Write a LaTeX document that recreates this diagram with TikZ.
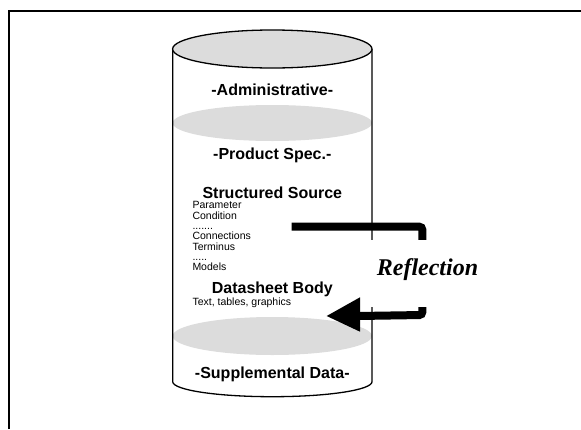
\documentclass[tikz,border=0pt]{standalone}
\usepackage{fontspec}
\newfontfamily\arialf{Liberation Sans}
\newfontfamily\timesf{Liberation Serif}
\definecolor{layergray}{RGB}{220,220,220}
\begin{document}
\begin{tikzpicture}[x=1pt,y=-1pt,
  head/.style={font=\arialf\bfseries\fontsize{16}{19}\selectfont, anchor=base, inner sep=0pt},
  small/.style={font=\arialf\fontsize{10.5}{12}\selectfont, anchor=base west, inner sep=0pt},
  outline/.style={line width=1.3pt, black},
  bigarrow/.style={line width=8pt, black, rounded corners=3pt}]
\useasboundingbox (0,0) rectangle (581,429);
% frame
\draw[line width=2pt] (9,429) -- (9,10.5) -- (581,10.5);
% layer ellipses
\fill[layergray] (272.3,123) ellipse [x radius=99.7pt, y radius=18pt];
\fill[layergray] (272.3,336) ellipse [x radius=99.7pt, y radius=19pt];
% cylinder body
\draw[outline] (172.7,49) -- (172.7,381.7)
  .. controls (172.7,390) and (217.2,396.7) .. (272.3,396.7)
  .. controls (327.4,396.7) and (372,390) .. (372,381.7) -- (372,49);
\draw[outline, fill=layergray] (272.3,49) ellipse [x radius=99.7pt, y radius=19pt];
% texts
\node[head] (adm) at (272.3,95.5) {-Administrative-};
\node[head] (prod) at (272.3,159.8) {-Product Spec.-};
\node[head] (ss) at (272.3,198) {Structured Source};
\node[small] (l1) at (192.3,208.3) {Parameter};
\node[small] (l2) at (192.3,219) {Condition};
\node[small] (l3) at (192.3,229) {.......};
\node[small] (l4) at (192.3,239) {Connections};
\node[small] (l5) at (192.3,250) {Terminus};
\node[small] (l6) at (192.3,260) {.....};
\node[small] (l7) at (192.3,270) {Models};
\node[head] (db) at (272.3,293.3) {Datasheet Body};
\node[small] (tt) at (192.3,305.8) {Text, tables, graphics};
\node[head] (sup) at (272.3,378) {-Supplemental Data-};
% reflection arrow
\coordinate (from) at (291.7,226.7);
\coordinate (bend) at (422.3,226.7);
\coordinate (bend2) at (422.3,315);
\coordinate (neck) at (358,316);
\coordinate (to) at (326.7,316);
\draw[bigarrow] (from) -- (bend) -- (bend2) -- (neck);
\fill (to) -- (360,297.3) -- (360,331.7) -- cycle;
% label box
\fill[white] (366,240) rectangle (490,306.7);
\node[font=\timesf\bfseries\itshape\fontsize{24}{29}\selectfont, anchor=base, inner sep=0pt] (refl) at (427.5,275) {Reflection};
\end{tikzpicture}
\end{document}
